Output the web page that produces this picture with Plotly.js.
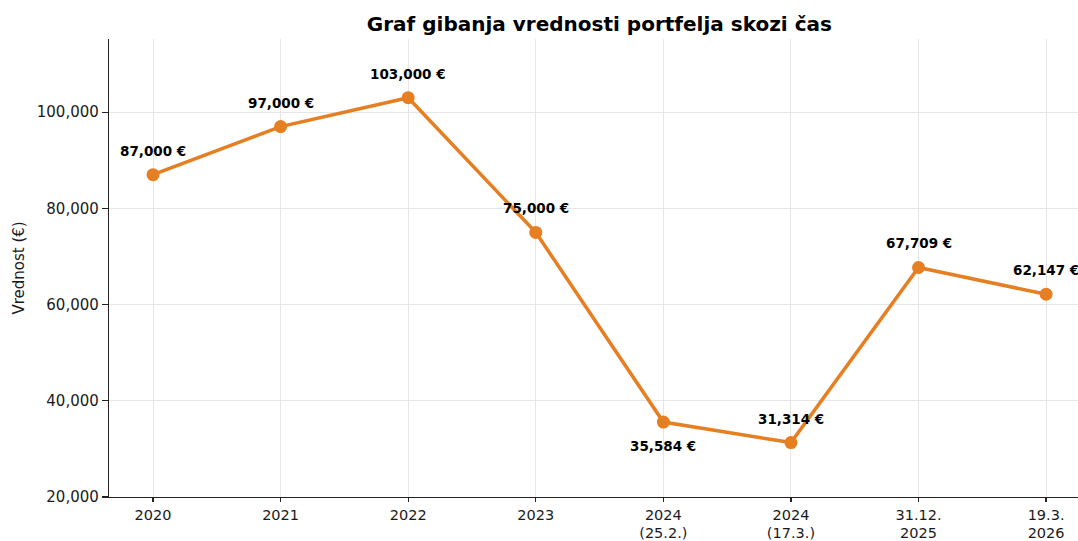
<!DOCTYPE html>
<html>
<head>
<meta charset="utf-8">
<script src="https://cdn.plot.ly/plotly-3.0.1.min.js"></script>
<style>html,body{margin:0;padding:0;background:#fff;}#chart{width:1078px;height:541px;}</style>
</head>
<body>
<div id="chart"></div>
<script>
const categories = ["2020", "2021", "2022", "2023", "2024<br>(25.2.)", "2024<br>(17.3.)", "31.12.<br>2025", "19.3.<br>2026"];
const values = [87000, 97000, 103000, 75000, 35584, 31314, 67709, 62147];
const valueLabels = ["87,000 €", "97,000 €", "103,000 €", "75,000 €", "35,584 €", "31,314 €", "67,709 €", "62,147 €"];
const labelBelow = [false, false, false, false, true, false, false, false];
const yTicks = [20000, 40000, 60000, 80000, 100000];

const idx = categories.map((c, i) => i);
const color = '#E67E22';
const font = 'DejaVu Sans, sans-serif';

const trace = {
  x: idx, y: values, type: 'scatter', mode: 'lines+markers',
  line: {color: color, width: 3.5},
  marker: {color: color, size: 13},
  cliponaxis: false, hoverinfo: 'skip'
};

const annotations = idx.map(i => ({
  x: i, y: values[i], xref: 'x', yref: 'y',
  text: '<b>' + valueLabels[i] + '</b>', showarrow: false,
  xanchor: 'center', yanchor: 'middle',
  yshift: labelBelow[i] ? -24 : 24,
  font: {family: font, size: 13.5, color: '#000'}
}));

const layout = {
  width: 1078, height: 541,
  paper_bgcolor: '#fff', plot_bgcolor: '#fff',
  margin: {l: 109, r: 0, t: 39, b: 44, pad: 0},
  showlegend: false,
  title: {
    text: '<b>Graf gibanja vrednosti portfelja skozi čas</b>',
    font: {family: font, size: 20, color: '#000'},
    xref: 'container', x: 0.556, xanchor: 'center',
    yref: 'container', y: 1 - 24/541, yanchor: 'middle'
  },
  xaxis: {
    type: 'linear', range: [-0.345, 7.25],
    tickmode: 'array', tickvals: idx, ticktext: categories,
    showgrid: true, gridcolor: '#e6e6e6', gridwidth: 1,
    zeroline: false, showline: true, linecolor: '#222', linewidth: 1.2,
    ticks: 'outside', ticklen: 4, tickwidth: 1.2, tickcolor: '#222',
    tickfont: {family: font, size: 14.5, color: '#1a1a1a'}
  },
  yaxis: {
    range: [20000, 115200],
    tickmode: 'array', tickvals: yTicks, tickformat: ',d',
    showgrid: true, gridcolor: '#e6e6e6', gridwidth: 1,
    zeroline: false, showline: true, linecolor: '#222', linewidth: 1.2,
    ticks: 'outside', ticklen: 6, tickwidth: 1.2, tickcolor: '#222',
    tickfont: {family: font, size: 15, color: '#1a1a1a'},
    title: {text: 'Vrednost (€)', font: {family: font, size: 15, color: '#1a1a1a'}, standoff: 8}
  },
  annotations: annotations
};

Plotly.newPlot('chart', [trace], layout, {staticPlot: true, displayModeBar: false});
</script>
</body>
</html>
